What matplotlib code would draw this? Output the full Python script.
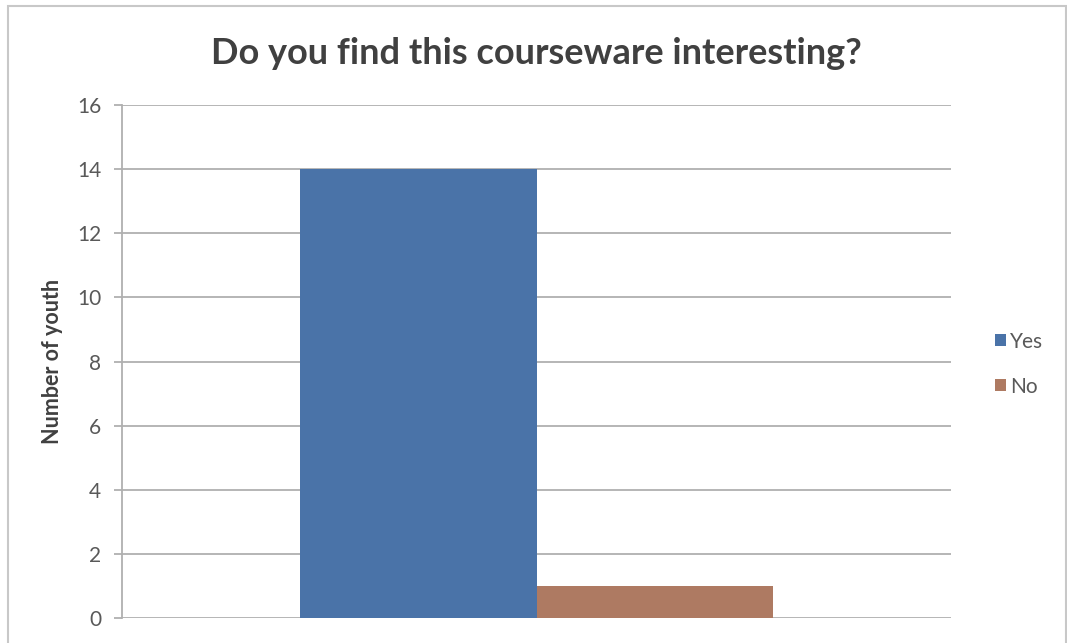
import matplotlib.pyplot as plt
import matplotlib.patches as mpatches
import numpy as np

plt.rcParams['font.family'] = ['Lato', 'DejaVu Sans']

# Survey responses
series = ['Yes', 'No']
counts = [14, 1]
colors = ['#4A73A8', '#AE7A62']
yticks = [0, 2, 4, 6, 8, 10, 12, 14, 16]

W, H = 1067, 643
fig = plt.figure(figsize=(W / 100, H / 100), dpi=100)

# chart frame
fig.patches.append(mpatches.Rectangle((8 / W, -0.05), (W - 9) / W, 1.05 - 6 / H,
                                      transform=fig.transFigure, fill=False,
                                      edgecolor='#C8C8C8', linewidth=1.5))

ax = fig.add_axes([122 / W, 1 - 618 / H, (951 - 122) / W, (618 - 105) / H])

bar_w = 0.2847
offsets = (np.arange(len(series)) - (len(series) - 1) / 2) * bar_w
for off, val, col, name in zip(offsets, counts, colors, series):
    ax.bar(off, val, width=bar_w, color=col, label=name, zorder=3)

ax.set_xlim(-0.5, 0.5)
ax.set_ylim(0, 16)
ax.set_yticks(yticks)
ax.set_xticks([])
ax.grid(axis='y', color='#B0B0B0', linewidth=1.3, zorder=0)
for s in ['top', 'right', 'bottom']:
    ax.spines[s].set_visible(False)
ax.spines['left'].set_color('#B0B0B0')
ax.spines['left'].set_linewidth(1.3)
ax.tick_params(axis='y', length=6, width=1.3, color='#B0B0B0',
               labelsize=15, labelcolor='#595959', pad=9)

ax.set_ylabel('Number of youth', fontsize=15.5, fontweight='bold',
              color='#404040', labelpad=10)

fig.text(536 / W, 1 - 54 / H, 'Do you find this courseware interesting?',
         ha='center', va='center', fontsize=26, fontweight='bold',
         color='#404040')

leg = ax.legend(loc='center left', bbox_to_anchor=(1.03, 0.495), frameon=False,
                fontsize=15, handlelength=0.55, handleheight=0.55,
                handletextpad=0.2, labelspacing=1.2)
for t in leg.get_texts():
    t.set_color('#595959')

fig.savefig('out.png', dpi=100)
